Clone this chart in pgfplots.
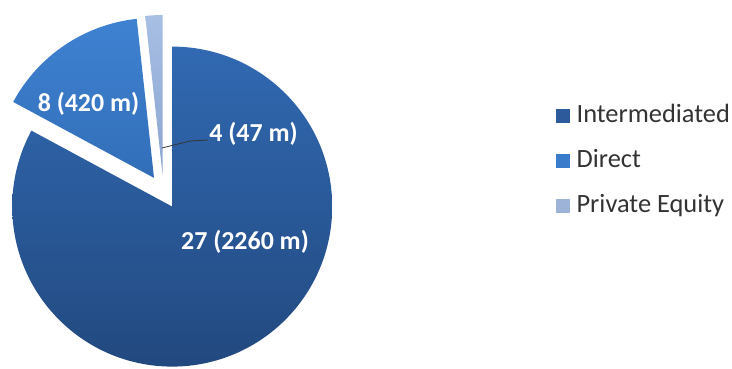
\documentclass[border=0pt]{standalone}
\usepackage{fontspec}
\setmainfont{Carlito}
\usepackage{pgfplots}
\usepackage{pgfplotstable}
\pgfplotsset{compat=1.18}
\definecolor{intA}{HTML}{3169B2}
\definecolor{intB}{HTML}{22497F}
\definecolor{dirA}{HTML}{3F82D2}
\definecolor{dirB}{HTML}{326EB8}
\definecolor{peA}{HTML}{A8BFE4}
\definecolor{peB}{HTML}{8AA5D0}
\definecolor{legInt}{HTML}{2C5A9B}
\definecolor{legDir}{HTML}{3B7BCB}
\definecolor{legPE}{HTML}{9DB3D8}
\definecolor{legText}{HTML}{333333}

\pgfplotstableread{
name value count
Intermediated 2260 27
Direct 420 8
PrivateEquity 47 4
}\piedata

\begin{document}
\begin{tikzpicture}
\pgfplotstablegetelem{0}{value}\of\piedata \let\vA\pgfplotsretval
\pgfplotstablegetelem{1}{value}\of\piedata \let\vB\pgfplotsretval
\pgfplotstablegetelem{2}{value}\of\piedata \let\vC\pgfplotsretval
\pgfmathsetmacro\tot{\vA+\vB+\vC}
\pgfmathsetmacro\aA{90}
\pgfmathsetmacro\aB{\aA-360*(\vA/\tot)}
\pgfmathsetmacro\aC{\aB-360*(\vB/\tot)}
\pgfmathsetmacro\aD{\aC-360*(\vC/\tot)}
% exploded apexes (centre 163.5,177; offset 17; radius 160)
\pgfmathsetmacro\mA{(\aA+\aB)/2}
\pgfmathsetmacro\mB{(\aB+\aC)/2}
\pgfmathsetmacro\mC{(\aC+\aD)/2}
\pgfmathsetmacro\xA{163.5+17*cos(\mA)}\pgfmathsetmacro\yA{177+17*sin(\mA)}
\pgfmathsetmacro\xB{163.5+17*cos(\mB)}\pgfmathsetmacro\yB{177+17*sin(\mB)}
\pgfmathsetmacro\xC{163.5+17*cos(\mC)}\pgfmathsetmacro\yC{177+17*sin(\mC)}
\begin{axis}[
  width=732bp, height=369bp, scale only axis,
  xmin=0, xmax=732, ymin=0, ymax=369,
  hide axis, clip=false,
  legend style={draw=none, fill=none, at={(axis cs:556,268)}, anchor=north west,
    font=\fontsize{26.5}{31}\selectfont, text=legText, inner sep=0pt, row sep=16bp,
    nodes={text height=19bp, text depth=6bp},
    /tikz/every odd column/.append style={column sep=5bp}},
  legend cell align=left,
]
\path (axis cs:0,0) rectangle (axis cs:732,369);
\shade[top color=intA, bottom color=intB] (axis cs:\xA,\yA) -- ++(\aA:160bp) arc[start angle=\aA, end angle=\aB, radius=160bp] -- cycle;
\shade[top color=dirA, bottom color=dirB] (axis cs:\xB,\yB) -- ++(\aB:160bp) arc[start angle=\aB, end angle=\aC, radius=160bp] -- cycle;
\shade[top color=peA, bottom color=peB] (axis cs:\xC,\yC) -- ++(\aC:160bp) arc[start angle=\aC, end angle=\aD, radius=160bp] -- cycle;
\draw[black!80, line width=0.8bp] (axis cs:162,221) -- (axis cs:190,228) -- (axis cs:208,229);
\node[white, anchor=base, font=\fontsize{26}{30}\selectfont\bfseries] at (axis cs:88.5,257) {8 (420 m)};
\node[white, anchor=base, font=\fontsize{26}{30}\selectfont\bfseries] at (axis cs:253.5,227) {4 (47 m)};
\node[white, anchor=base, font=\fontsize{26}{30}\selectfont\bfseries] at (axis cs:245,119) {27 (2260 m)};
\addlegendimage{legend image code/.code={\fill[legInt] (0bp,-6.5bp) rectangle (13bp,6.5bp);}}
\addlegendentry{Intermediated}
\addlegendimage{legend image code/.code={\fill[legDir] (0bp,-6.5bp) rectangle (13bp,6.5bp);}}
\addlegendentry{Direct}
\addlegendimage{legend image code/.code={\fill[legPE] (0bp,-6.5bp) rectangle (13bp,6.5bp);}}
\addlegendentry{Private Equity}
\end{axis}
\end{tikzpicture}
\end{document}
